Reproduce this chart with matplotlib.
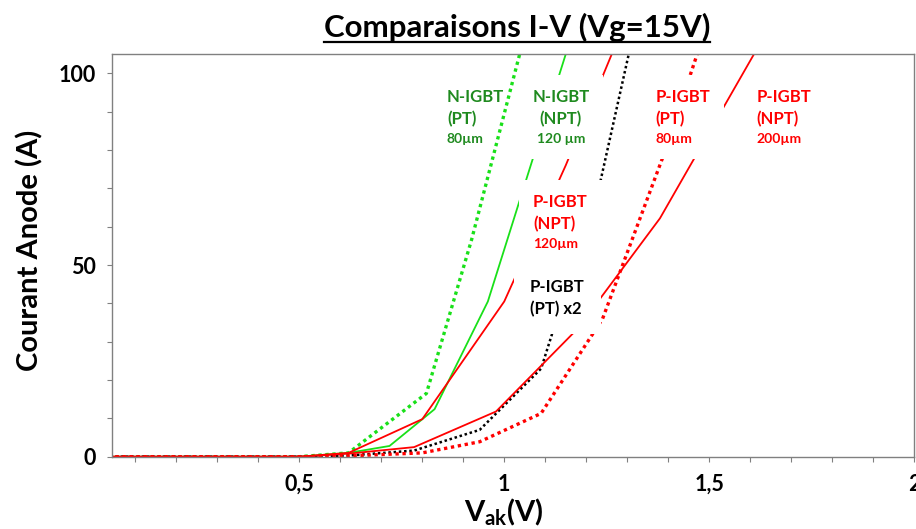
import matplotlib
matplotlib.use("Agg")
import matplotlib.pyplot as plt
from matplotlib.lines import Line2D
from matplotlib.patches import Rectangle
from matplotlib.transforms import Bbox, IdentityTransform
from matplotlib.ticker import FixedLocator

# ---------------- data ----------------
vak_n_pt = [0.0, 0.5, 0.62, 0.81, 0.92, 1.04]
i_n_pt = [0, 0, 1.0, 16.5, 56.5, 106]

vak_n_npt = [0.0, 0.5, 0.62, 0.72, 0.83, 0.96, 1.15]
i_n_npt = [0, 0, 1.0, 2.8, 12.4, 40.5, 105]

vak_p_npt120 = [0.0, 0.5, 0.62, 0.80, 1.00, 1.15, 1.27]
i_p_npt120 = [0, 0, 1.0, 9.8, 40.5, 76, 107]

vak_p_pt_x2 = [0.0, 0.5, 0.62, 0.78, 0.94, 1.09, 1.235, 1.31]
i_p_pt_x2 = [0, 0, 0.3, 1.6, 7.0, 23, 72, 108]

vak_p_npt200 = [0.0, 0.5, 0.62, 0.78, 0.98, 1.18, 1.38, 1.62]
i_p_npt200 = [0, 0, 0.8, 2.5, 11.8, 33.5, 62.2, 107]

vak_p_pt80 = [0.0, 0.5, 0.62, 0.80, 0.94, 1.09, 1.24, 1.39, 1.48]
i_p_pt80 = [0, 0, 0.2, 1.0, 3.9, 11.3, 36, 79, 108]

xtick_vals = [0.5, 1.0, 1.5, 2.0]
xtick_labels = ["0,5", "1", "1,5", "2"]
xminor_vals = [0.1 * k for k in range(1, 20)]
ytick_vals = [0, 50, 100]
ytick_labels = ["0", "50", "100"]
yminor_vals = [10, 20, 30, 40, 60, 70, 80, 90]

title = "Comparaisons I-V (Vg=15V)"
ylabel = "Courant Anode (A)"
xlabel = r"$\mathregular{V_{ak}}$(V)"

# ---------------- style ----------------
plt.rcParams["font.family"] = ["Lato", "DejaVu Sans"]
plt.rcParams["font.weight"] = "bold"
plt.rcParams["mathtext.fontset"] = "custom"
plt.rcParams["mathtext.rm"] = "Lato:bold"
plt.rcParams["mathtext.it"] = "Lato:bold"
plt.rcParams["mathtext.bf"] = "Lato:bold"

GREEN = "#19E019"
GREEN_TXT = "#1F8A1F"
RED = "#FF0000"
GRAY = "#808080"

W, H = 916, 529
fig = plt.figure(figsize=(W / 100, H / 100), dpi=100)
ax = fig.add_axes([111.7 / W, 1 - 456.7 / H, (914 - 111.7) / W, (456.7 - 54.3) / H])

dot = (0, (1, 1.1))
ax.plot(vak_n_pt, i_n_pt, color=GREEN, lw=2.4, linestyle=dot)
ax.plot(vak_n_npt, i_n_npt, color=GREEN, lw=1.3)
ax.plot(vak_p_npt120, i_p_npt120, color=RED, lw=1.3)
ax.plot(vak_p_pt_x2, i_p_pt_x2, color="black", lw=1.8, linestyle=dot)
ax.plot(vak_p_npt200, i_p_npt200, color=RED, lw=1.3)
ax.plot(vak_p_pt80, i_p_pt80, color=RED, lw=2.4, linestyle=dot)

ax.set_xlim(0.042, 2.0)
ax.set_ylim(0, 105)

ax.set_xticks(xtick_vals)
ax.set_xticklabels(xtick_labels)
ax.xaxis.set_minor_locator(FixedLocator(xminor_vals))
ax.set_yticks(ytick_vals)
ax.set_yticklabels(ytick_labels)
ax.yaxis.set_minor_locator(FixedLocator(yminor_vals))

ax.tick_params(axis="both", which="both", direction="out", length=3.5,
               width=0.8, color=GRAY)
ax.tick_params(axis="x", which="major", labelsize=15.5, pad=9)
ax.tick_params(axis="y", which="major", labelsize=15.5, pad=8)
for lab in ax.get_xticklabels() + ax.get_yticklabels():
    lab.set_fontweight("bold")

for sp in ax.spines.values():
    sp.set_color(GRAY)
    sp.set_linewidth(1.0)

# ---------------- annotations ----------------
labels = []


def label(x, y, big, small, color, pad_px, small_dy, ha="left", size=12, ssize=10):
    parts = [ax.text(x, y, big, color=color, fontsize=size, fontweight="bold", ha=ha,
                     va="top", linespacing=1.45, zorder=6)]
    if small:
        parts.append(ax.text(x, y - small_dy, small, color=color, fontsize=ssize,
                             fontweight="bold", ha=ha, va="top", zorder=6))
    if pad_px is not None:
        labels.append((parts, pad_px))


label(0.860, 96.0, "N-IGBT\n(PT)", "80µm", GREEN_TXT, None, 11.6)
label(1.138, 96.0, "N-IGBT\n(NPT)", "120 µm", GREEN_TXT, 14, 11.6, ha="center")
label(1.070, 68.6, "P-IGBT\n(NPT)", "120µm", RED, 14, 11.6)
label(1.063, 46.3, "P-IGBT\n(PT) x2", None, "black", 16, 0)
label(1.369, 96.0, "P-IGBT\n(PT)", "80µm", RED, 14, 11.6)
label(1.616, 96.0, "P-IGBT\n(NPT)", "200µm", RED, 14, 11.6)

# ---------------- titles ----------------
t = fig.text(517 / W, 1 - 37 / H, title, fontsize=22.5, fontweight="bold",
             ha="center", va="baseline", color="black")
fig.text(30 / W, 1 - 250 / H, ylabel, rotation=90, fontsize=21, fontweight="bold",
         ha="center", va="center", color="black")
fig.text(504 / W, 1 - 497 / H, xlabel, fontsize=21, fontweight="bold",
         ha="center", va="top", color="black")

fig.canvas.draw()
renderer = fig.canvas.get_renderer()

# white background boxes behind each label (derived from the text extents)
for parts, pad in labels:
    bb = Bbox.union([p.get_window_extent(renderer) for p in parts])
    rect = Rectangle((bb.x0 - pad, bb.y0 - pad), bb.width + 2 * pad, bb.height + 2 * pad,
                     transform=IdentityTransform(), facecolor="white", edgecolor="none",
                     zorder=5, clip_on=False)
    ax.add_patch(rect)

bb = t.get_window_extent(renderer)
fig.add_artist(Line2D([bb.x0 / W, bb.x1 / W], [1 - 41.5 / H, 1 - 41.5 / H],
                      transform=fig.transFigure, color="black", lw=1.6))

fig.savefig("out.png", dpi=100)
